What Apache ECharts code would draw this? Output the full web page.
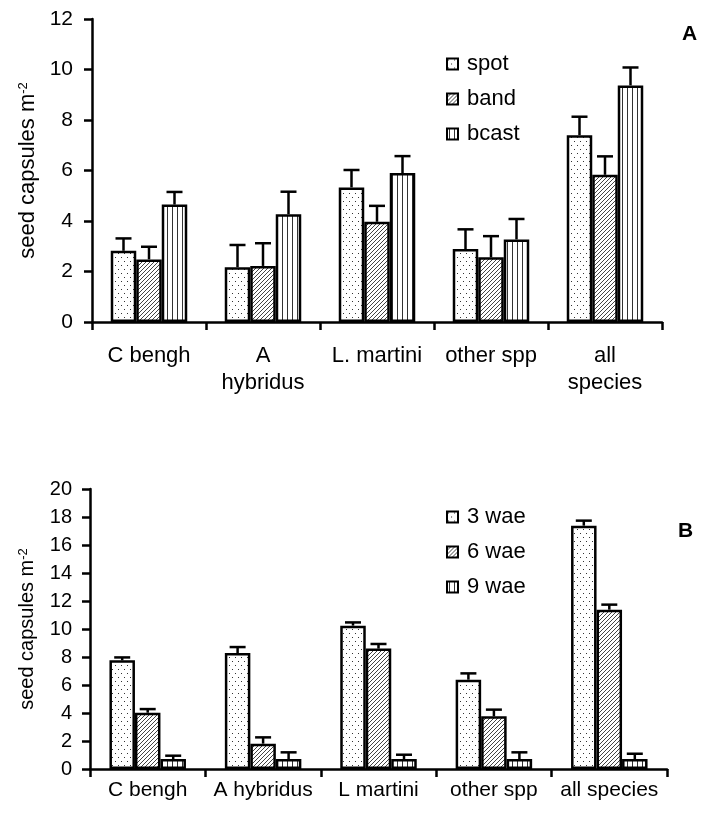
<!DOCTYPE html>
<html>
<head>
<meta charset="utf-8">
<script src="https://cdn.jsdelivr.net/npm/echarts@6/dist/echarts.min.js"></script>
<style>
html, body { margin: 0; padding: 0; background: #fff; }
#chart { width: 702px; height: 813px; }
</style>
</head>
<body>
<div id="chart"></div>
<script>
// panel A: seed capsules by sowing method
const categoriesA = ['C bengh', 'A\nhybridus', 'L. martini', 'other spp', 'all\nspecies']
const namesA = ['spot', 'band', 'bcast']
const spotA = [2.82, 2.17, 5.33, 2.89, 7.40]
const spotErrA = [0.49, 0.88, 0.69, 0.78, 0.73]
const bandA = [2.48, 2.22, 3.97, 2.56, 5.83]
const bandErrA = [0.50, 0.90, 0.63, 0.84, 0.73]
const bcastA = [4.65, 4.27, 5.90, 3.27, 9.37]
const bcastErrA = [0.50, 0.89, 0.67, 0.81, 0.71]

// panel B: seed capsules by weeks after emergence
const categoriesB = ['C bengh', 'A hybridus', 'L martini', 'other spp', 'all species']
const namesB = ['3 wae', '6 wae', '9 wae']
const wae3B = [7.76, 8.28, 10.24, 6.38, 17.38]
const wae3ErrB = [0.21, 0.43, 0.23, 0.45, 0.36]
const wae6B = [4.02, 1.81, 8.60, 3.76, 11.38]
const wae6ErrB = [0.26, 0.45, 0.33, 0.48, 0.36]
const wae9B = [0.71, 0.71, 0.71, 0.71, 0.71]
const wae9ErrB = [0.24, 0.48, 0.31, 0.48, 0.38]

const FONT = '"Liberation Sans", Arial, sans-serif'
const BAR_W = 25.5

function makePattern(kind) {
  const c = document.createElement('canvas')
  const ctx = c.getContext('2d')
  if (kind === 'dots') {
    c.width = 6; c.height = 8
    ctx.fillStyle = '#fff'; ctx.fillRect(0, 0, 6, 8)
    ctx.fillStyle = '#333'
    ctx.fillRect(1, 1, 1, 1)
    ctx.fillRect(4, 5, 1, 1)
  } else if (kind === 'hatch') {
    c.width = 4; c.height = 4
    ctx.fillStyle = '#fff'; ctx.fillRect(0, 0, 4, 4)
    ctx.strokeStyle = '#444'
    ctx.lineWidth = 1
    ctx.beginPath()
    ctx.moveTo(-1, 5); ctx.lineTo(5, -1)
    ctx.moveTo(-1, 1); ctx.lineTo(1, -1)
    ctx.moveTo(3, 5); ctx.lineTo(5, 3)
    ctx.stroke()
  } else {
    c.width = 5; c.height = 4
    ctx.fillStyle = '#fff'; ctx.fillRect(0, 0, 5, 4)
    ctx.fillStyle = '#333'
    ctx.fillRect(2, 0, 1, 4)
  }
  return { image: c, repeat: 'repeat' }
}

const patterns = [makePattern('dots'), makePattern('hatch'), makePattern('vert')]

function barSeries(name, data, idx, k) {
  return {
    name: name,
    type: 'bar',
    xAxisIndex: idx,
    yAxisIndex: idx,
    data: data,
    barWidth: BAR_W,
    barGap: '0%',
    itemStyle: { color: patterns[k], borderColor: '#000', borderWidth: 2.5 },
    emphasis: { disabled: true },
  }
}

function errSeries(values, errs, idx, k) {
  return {
    type: 'custom',
    xAxisIndex: idx,
    yAxisIndex: idx,
    silent: true,
    z: 3,
    data: values.map((v, i) => [i, v, v + errs[i]]),
    encode: { x: 0, y: [1, 2] },
    renderItem(params, api) {
      const base = api.coord([api.value(0), api.value(1)])
      const top = api.coord([api.value(0), api.value(2)])
      const x = base[0] + (k - 1) * BAR_W
      const st = { stroke: '#000', lineWidth: 2.5 }
      return {
        type: 'group',
        children: [
          { type: 'line', shape: { x1: x, y1: base[1], x2: x, y2: top[1] }, style: st },
          { type: 'line', shape: { x1: x - 8, y1: top[1], x2: x + 8, y2: top[1] }, style: st },
        ],
      }
    },
  }
}

function catAxis(idx, data, size, margin, lh) {
  return {
    type: 'category',
    gridIndex: idx,
    data: data,
    axisLine: { show: true, lineStyle: { color: '#000', width: 2.5 } },
    axisTick: { show: true, length: 8, lineStyle: { color: '#000', width: 2.5 } },
    axisLabel: { interval: 0, color: '#000', fontFamily: FONT, fontSize: size, lineHeight: lh, margin: margin },
  }
}

function valAxis(idx, max, size, margin) {
  return {
    type: 'value',
    gridIndex: idx,
    min: 0,
    max: max,
    interval: 2,
    name: 'seed capsules m{sup|-2}',
    nameLocation: 'middle',
    nameRotate: 90,
    nameGap: 51,
    nameTextStyle: {
      color: '#000', fontFamily: FONT, fontSize: idx === 0 ? 22 : 20, lineHeight: 22,
      rich: { sup: { color: '#000', fontFamily: FONT, fontSize: 13, verticalAlign: 'top', lineHeight: 22 } },
    },
    axisLine: { show: true, lineStyle: { color: '#000', width: 2.5 } },
    axisTick: { show: true, length: 8, lineStyle: { color: '#000', width: 2.5 } },
    splitLine: { show: false },
    axisLabel: { color: '#000', fontFamily: FONT, fontSize: size, margin: margin },
  }
}

function legendFor(names, top) {
  return {
    orient: 'vertical',
    left: 446,
    top: top,
    padding: 0,
    icon: 'rect',
    itemWidth: 11,
    itemHeight: 11,
    itemGap: 13,
    data: names,
    selectedMode: false,
    itemStyle: { borderColor: '#000', borderWidth: 2 },
    textStyle: { color: '#000', fontFamily: FONT, fontSize: 22, lineHeight: 22, padding: [0, 0, 0, 4] },
  }
}

const chart = echarts.init(document.getElementById('chart'))
chart.setOption({
  animation: false,
  backgroundColor: '#fff',
  title: [
    { text: 'A', left: 682, top: 24, padding: 0, textStyle: { fontFamily: FONT, fontWeight: 'bold', fontSize: 21, color: '#000' } },
    { text: 'B', left: 678, top: 521, padding: 0, textStyle: { fontFamily: FONT, fontWeight: 'bold', fontSize: 21, color: '#000' } },
  ],
  legend: [legendFor(namesA, 53), legendFor(namesB, 506)],
  grid: [
    { left: 92, right: 40, top: 19, height: 303 },
    { left: 90, right: 35, top: 489, height: 280 },
  ],
  xAxis: [catAxis(0, categoriesA, 22, 20, 27), catAxis(1, categoriesB, 21, 11, 21)],
  yAxis: [valAxis(0, 12, 21, 19), valAxis(1, 20, 20, 18)],
  series: [
    barSeries(namesA[0], spotA, 0, 0),
    barSeries(namesA[1], bandA, 0, 1),
    barSeries(namesA[2], bcastA, 0, 2),
    errSeries(spotA, spotErrA, 0, 0),
    errSeries(bandA, bandErrA, 0, 1),
    errSeries(bcastA, bcastErrA, 0, 2),
    barSeries(namesB[0], wae3B, 1, 0),
    barSeries(namesB[1], wae6B, 1, 1),
    barSeries(namesB[2], wae9B, 1, 2),
    errSeries(wae3B, wae3ErrB, 1, 0),
    errSeries(wae6B, wae6ErrB, 1, 1),
    errSeries(wae9B, wae9ErrB, 1, 2),
  ],
})
</script>
</body>
</html>
